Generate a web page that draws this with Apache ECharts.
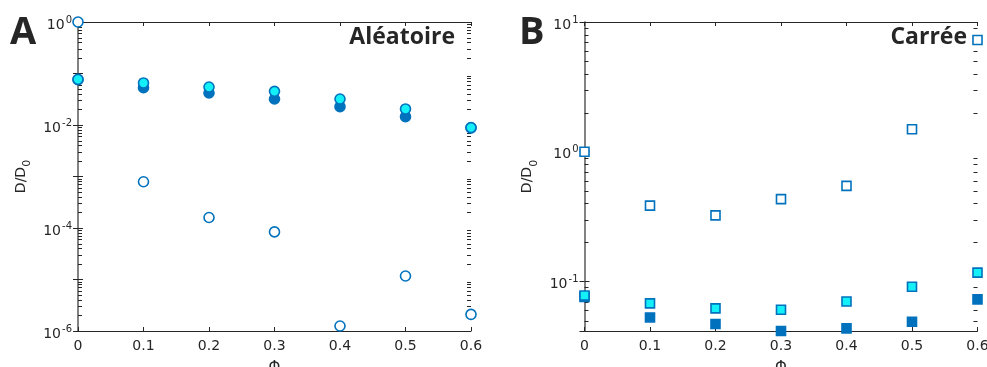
<!DOCTYPE html>
<html>
<head>
<meta charset="utf-8">
<script src="https://cdn.jsdelivr.net/npm/echarts@6/dist/echarts.min.js"></script>
<style>html,body{margin:0;padding:0;background:#fff}#c{width:987px;height:367px}</style>
</head>
<body>
<div id="c"></div>
<script>
// ---- data ----
var phi = [0, 0.1, 0.2, 0.3, 0.4, 0.5, 0.6];
// Panel A (Aléatoire)
var aOpen  = [1.0, 7.9e-4, 1.6e-4, 8.4e-5, 1.25e-6, 1.17e-5, 2.1e-6];
var aDark  = [0.076, 0.053, 0.0418, 0.032, 0.0227, 0.0145, 0.0088];
var aCyan  = [0.077, 0.0655, 0.0547, 0.045, 0.032, 0.0205, 0.0089];
// Panel B (Carrée)
var bOpen  = [1.0, 0.384, 0.323, 0.431, 0.545, 1.49, 7.26];
var bDark  = [0.076, 0.0528, 0.047, 0.0415, 0.0435, 0.0489, 0.0728];
var bCyan  = [0.078, 0.0678, 0.062, 0.0605, 0.0701, 0.091, 0.117];
var aYRange = [1e-6, 1];
var bYRange = [0.0415, 10];
var aLabelStep = 2;   // decades between labelled ticks, panel A
var bLabelStep = 1;   // panel B

var BLUE = '#0072BD', CYAN = '#14F0F8';
var FONT = 'DejaVu Sans';

function pairs(ys) { return phi.map(function (x, i) { return [x, ys[i]]; }); }
function minorVals(lo, hi) {
  var out = [];
  for (var e = Math.floor(Math.log10(lo)); e < Math.ceil(Math.log10(hi)); e++) {
    for (var k = 2; k <= 9; k++) {
      var v = k * Math.pow(10, e);
      if (v > lo && v < hi) out.push(v);
    }
  }
  return out;
}
function logLabeller(step) {
  return function (v) {
    var e = Math.round(Math.log10(v));
    if (e % step !== 0) return '';
    return '{b|10}{s|' + e + '}';
  };
}
var labelRich = {
  b: { fontFamily: FONT, fontSize: 14, color: '#262626', verticalAlign: 'bottom', lineHeight: 20 },
  s: { fontFamily: FONT, fontSize: 10, color: '#262626', verticalAlign: 'bottom', lineHeight: 20, padding: [0, 0, 7, 1] }
};

function xAxes(gi) {
  var base = {
    type: 'value', gridIndex: gi, min: 0, max: 0.6, interval: 0.1,
    splitLine: { show: false },
    axisLine: { lineStyle: { color: '#262626', width: 1 } },
    axisTick: { inside: true, length: 4, lineStyle: { color: '#262626' } }
  };
  return [
    Object.assign({}, base, {
      position: 'bottom',
      name: 'Φ', nameLocation: 'middle', nameGap: 30,
      nameTextStyle: { fontFamily: FONT, fontSize: 15, color: '#262626' },
      axisLabel: { fontFamily: FONT, fontSize: 14, color: '#262626', margin: 8,
        formatter: function (v) { return String(+v.toFixed(1)); } }
    }),
    Object.assign({}, base, { position: 'top', axisLabel: { show: false } })
  ];
}
function yAxes(gi, range, step, showMin, gap) {
  var base = {
    type: 'log', logBase: 10, gridIndex: gi, min: range[0], max: range[1],
    splitLine: { show: false },
    axisLine: { lineStyle: { color: '#7a7a7a', width: 1.5 } },
    axisTick: { inside: true, length: 5, lineStyle: { color: '#262626' } }
  };
  return [
    Object.assign({}, base, {
      position: 'left',
      name: '{n|D/D}{sub|0}', nameLocation: 'middle', nameGap: gap,
      nameTextStyle: { rich: {
        n: { fontFamily: FONT, fontSize: 14, color: '#262626', verticalAlign: 'top', lineHeight: 22 },
        sub: { fontFamily: FONT, fontSize: 11, color: '#262626', verticalAlign: 'top', lineHeight: 22, padding: [8, 0, 0, 0] }
      } },
      axisLabel: { margin: 6, showMinLabel: showMin, formatter: logLabeller(step), rich: labelRich }
    }),
    Object.assign({}, base, { position: 'right', axisLabel: { show: false } })
  ];
}
function minorSeries(xi, yi, vals) {
  return {
    type: 'custom', xAxisIndex: xi, yAxisIndex: yi, silent: true, clip: false, z: 2,
    data: [[0.3, vals[0]]],
    renderItem: function (params, api) {
      var children = [];
      var st = { stroke: '#262626', lineWidth: 1 };
      vals.forEach(function (v) {
        var pl = api.coord([0, v]), pr = api.coord([0.6, v]);
        var y = Math.round(pl[1]) + 0.5;
        children.push({ type: 'line', shape: { x1: pl[0], y1: y, x2: pl[0] + 4, y2: y }, style: st });
        children.push({ type: 'line', shape: { x1: pr[0], y1: y, x2: pr[0] - 4, y2: y }, style: st });
      });
      return { type: 'group', children: children };
    }
  };
}
function scatter(xi, yi, data, symbol, size, fill, z) {
  return {
    type: 'scatter', xAxisIndex: xi, yAxisIndex: yi, data: pairs(data),
    symbol: symbol, symbolSize: size, z: z, clip: false,
    itemStyle: { color: fill, borderColor: BLUE, borderWidth: 1.6, opacity: 1 },
    emphasis: { disabled: true }
  };
}

var chart = echarts.init(document.getElementById('c'), null, { renderer: 'canvas' });
var option = {
  animation: false,
  backgroundColor: '#fff',
  grid: [
    { left: 78, right: 516, top: 22, bottom: 36, containLabel: false, outerBoundsMode: 'none' },
    { left: 584.5, right: 9.5, top: 22, bottom: 36, containLabel: false, outerBoundsMode: 'none' }
  ],
  xAxis: xAxes(0).concat(xAxes(1)),
  yAxis: yAxes(0, aYRange, aLabelStep, true, 42).concat(yAxes(1, bYRange, bLabelStep, false, 42)),
  series: [
    minorSeries(0, 0, minorVals(aYRange[0], aYRange[1])),
    minorSeries(2, 2, minorVals(bYRange[0], bYRange[1])),
    scatter(0, 0, aDark, 'circle', 10, BLUE, 3),
    scatter(0, 0, aCyan, 'circle', 10, CYAN, 4),
    scatter(0, 0, aOpen, 'circle', 10, '#ffffff', 5),
    scatter(2, 2, bDark, 'rect', 9, BLUE, 3),
    scatter(2, 2, bCyan, 'rect', 9, CYAN, 4),
    scatter(2, 2, bOpen, 'rect', 9, '#ffffff', 5)
  ],
  graphic: [
    { type: 'text', left: 10, top: 14, style: { text: 'A', fontFamily: 'Open Sans', fontWeight: 'bold', fontSize: 38, fill: '#262626' } },
    { type: 'text', right: 532, top: 26, style: { text: 'Aléatoire', fontFamily: 'Open Sans', fontWeight: 'bold', fontSize: 23, fill: '#262626' } },
    { type: 'text', left: 519, top: 14, style: { text: 'B', fontFamily: 'Open Sans', fontWeight: 'bold', fontSize: 38, fill: '#262626' } },
    { type: 'text', right: 20, top: 26, style: { text: 'Carrée', fontFamily: 'Open Sans', fontWeight: 'bold', fontSize: 23, fill: '#262626' } }
  ]
};
chart.setOption(option);
</script>
</body>
</html>
